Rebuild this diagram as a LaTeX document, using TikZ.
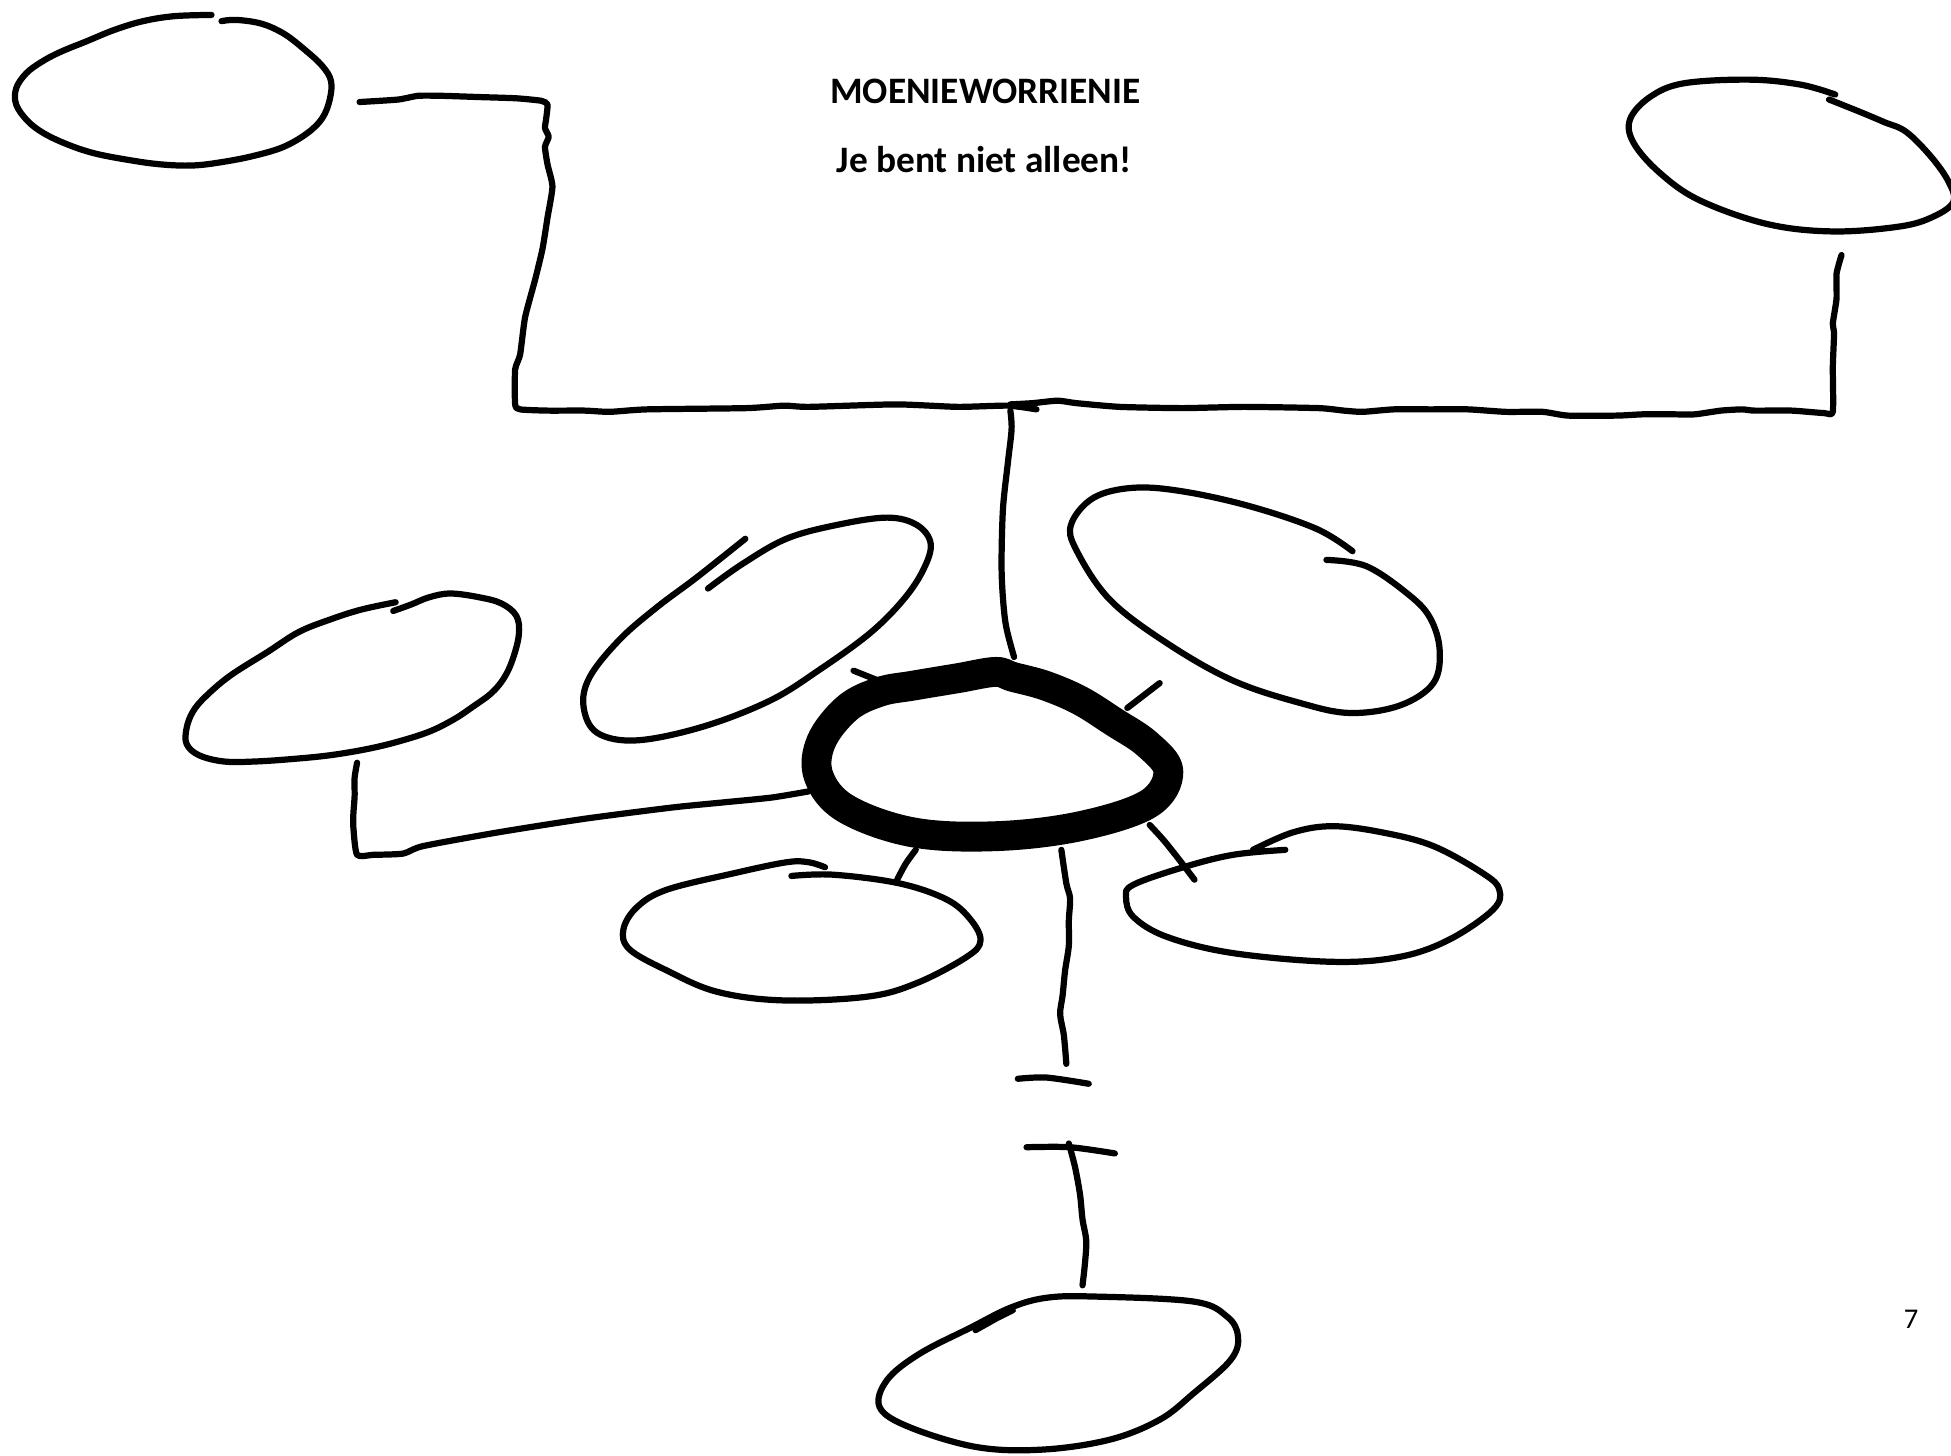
\documentclass[tikz,border=0pt]{standalone}
\usepackage{fontspec}
\setmainfont{Carlito}
\tikzset{
  ln/.style={line width=5pt, line cap=round, line join=round},
  ring/.style={line width=24pt, line cap=round, line join=round},
  title/.style={font=\bfseries\fontsize{30}{36}\selectfont, anchor=base, inner sep=0pt},
}
\begin{document}
\begin{tikzpicture}[x=1pt,y=-1pt]
\clip (0,0) rectangle (1568,1170);
\fill[white] (0,0) rectangle (1568,1170);

% texts
\node[title] (t1) at (792,83) {MOENIEWORRIENIE};
\node[title] (t2) at (791,139) {Je bent niet alleen!};
\node[font=\fontsize{23}{27}\selectfont, anchor=base, inner sep=0pt] (pg) at (1536,1068) {7};

% top-left ellipse
\draw[ln] plot[smooth, tension=0.6] coordinates {(178,17) (190,16) (210,19) (228,27) (245,40) (259,53) (266,65) (265,80) (259,95) (247,107) (228,118) (205,125) (180,130) (155,133) (128,132) (100,128) (75,123) (54,116) (35,107) (22,97) (13,84) (13,71) (21,59) (33,50) (48,42) (70,33) (92,24) (115,17) (140,13) (170,12)};

% top-right ellipse
\draw[ln] plot[smooth, tension=0.6] coordinates {(1470,80) (1495,90) (1514,98) (1532,106) (1552,126) (1566,146) (1570,162) (1554,174) (1527,182) (1473,186) (1420,180) (1366,161) (1334,139) (1313,115) (1310,96) (1326,78) (1353,67) (1406,64) (1447,68) (1475,76)};

% top bus, left part
\draw[ln] plot[smooth, tension=0.35] coordinates {(289,82) (320,80) (336,77) (355,77) (385,78) (415,79) (435,81) (440,84) (439,95) (438,103) (441,110) (438,118) (440,132) (444,150) (440,175) (436,200) (430,225) (422,255) (418,285) (414,297) (414,325) (418,329) (440,330) (470,330) (490,331) (520,329) (600,328) (630,326) (650,327) (720,325) (770,327) (810,326) (833,329)};
% top bus, right part
\draw[ln] plot[smooth, tension=0.35] coordinates {(812,325) (830,324) (850,322) (865,324) (900,327) (950,328) (1000,327) (1060,328) (1080,330) (1095,331) (1120,329) (1150,329) (1180,329) (1210,331) (1240,331) (1260,334) (1300,334) (1320,333) (1345,333) (1362,333) (1383,330) (1400,329) (1410,330) (1440,330) (1466,332) (1473,331) (1473,295) (1474,268) (1473,260) (1476,240) (1476,220) (1480,205)};
% down to centre
\draw[ln] plot[smooth, tension=0.5] coordinates {(812,330) (813,345) (810,372) (806,410) (805,460) (808,500) (815,528)};

% left-middle ellipse
\draw[ln] plot[smooth, tension=0.6] coordinates {(316,491) (330,486) (345,480) (362,477) (385,480) (403,485) (415,495) (417,510) (412,530) (405,545) (395,557) (380,568) (365,578) (345,588) (320,596) (295,602) (265,607) (235,610) (205,612) (180,612) (160,607) (150,598) (150,585) (155,572) (165,560) (185,543) (215,524) (240,508) (265,498) (290,490) (318,484)};
% left connector
\draw[ln] plot[smooth, tension=0.4] coordinates {(650,636) (620,641) (580,645) (540,649) (470,658) (400,669) (340,680) (324,686) (300,687) (287,687) (284,665) (284,654) (285,640) (285,625) (287,613)};

% upper-middle-left ellipse
\draw[ln] plot[smooth, tension=0.6] coordinates {(569,473) (597,453) (632,433) (672,422) (713,416) (737,422) (748,437) (742,458) (726,482) (699,509) (659,538) (619,563) (565,584) (512,595) (480,589) (469,568) (474,544) (498,514) (528,488) (560,464) (599,433)};

% upper-right ellipse
\draw[ln] plot[smooth, tension=0.6] coordinates {(1087,443) (1058,425) (1005,407) (951,395) (911,392) (879,400) (861,421) (865,442) (892,482) (938,517) (991,547) (1045,565) (1085,573) (1125,567) (1152,549) (1157,522) (1149,496) (1131,477) (1098,455) (1066,450)};

% central thick ring
\draw[ring] plot[smooth cycle, tension=0.6] coordinates {(707,556) (734,551) (770,545) (800,540) (814,544) (840,551) (868,563) (895,580) (922,598) (939,620) (923,646) (868,664) (801,672) (734,669) (680,650) (658,624) (660,596) (681,569)};
\draw[ln] (686,539) -- (706,547);
\draw[ln] (932,549) -- (906,569);

% lower-left ellipse
\draw[ln] plot[smooth, tension=0.6] coordinates {(663,697) (650,693) (632,693) (589,702) (536,715) (512,729) (501,747) (506,763) (536,780) (576,797) (629,804) (697,801) (737,790) (777,769) (788,756) (780,739) (761,723) (723,710) (670,703) (636,704)};
\draw[ln] plot[smooth] coordinates {(736,683) (728,694) (721,707)};

% lower-right ellipse
\draw[ln] plot[smooth, tension=0.6] coordinates {(1033,683) (991,687) (951,697) (911,711) (905,721) (911,737) (938,753) (991,766) (1071,773) (1125,769) (1165,755) (1200,731) (1205,715) (1192,702) (1152,680) (1111,669) (1071,664) (1039,669) (1007,683)};
\draw[ln] plot[smooth] coordinates {(924,663) (935,675) (947,690) (960,707)};

% bottom chain
\draw[ln] plot[smooth, tension=0.5] coordinates {(853,683) (857,710) (860,722) (859,740) (859,760) (856,780) (854,800) (852,815) (855,832) (857,855)};
\draw[ln] plot[smooth] coordinates {(818,867) (841,866) (875,871)};
\draw[ln] plot[smooth] coordinates {(825,922) (860,922) (896,927)};
\draw[ln] plot[smooth, tension=0.5] coordinates {(859,919) (864,938) (868,960) (870,980) (873,997) (872,1015) (870,1033)};

% bottom ellipse
\draw[ln] plot[smooth cycle, tension=0.6] coordinates {(879,1042) (959,1046) (986,1058) (995,1074) (989,1093) (959,1120) (932,1141) (892,1157) (838,1165) (785,1163) (731,1147) (707,1131) (713,1109) (739,1088) (780,1067) (812,1051) (841,1043)};
\draw[ln] (784,1069) -- (800,1060) -- (814,1053);
\end{tikzpicture}
\end{document}
